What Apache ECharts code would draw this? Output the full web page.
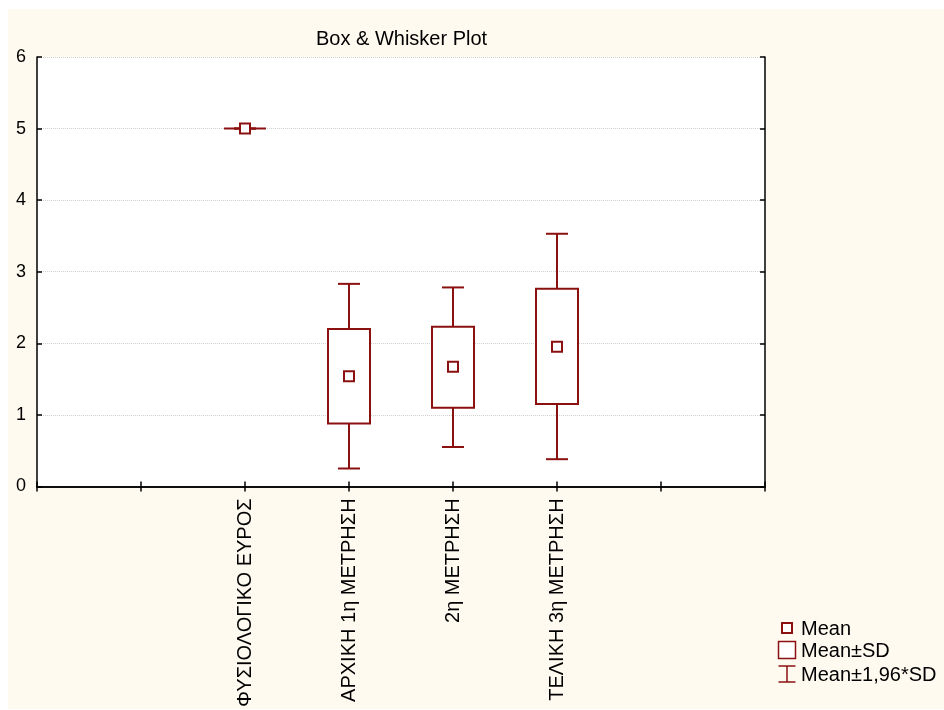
<!DOCTYPE html>
<html>
<head>
<meta charset="utf-8">
<script src="https://cdn.jsdelivr.net/npm/echarts@6/dist/echarts.min.js"></script>
<style>
html,body{margin:0;padding:0;background:#ffffff;}
#chart{width:944px;height:710px;}
</style>
</head>
<body>
<div id="chart"></div>
<script>
// Category slots on the x axis (empty slots are unlabeled tick positions)
const categories = ['', '', 'ΦΥΣΙΟΛΟΓΙΚΟ ΕΥΡΟΣ', 'ΑΡΧΙΚΗ 1η ΜΕΤΡΗΣΗ', '2η ΜΕΤΡΗΣΗ', 'ΤΕΛΙΚΗ 3η ΜΕΤΡΗΣΗ', '', ''];
// Which slot each group occupies
const groupSlots = [2, 3, 4, 5];
// Statistics
const means       = [5.00, 1.54, 1.67, 1.95];
const sdLow       = [5.00, 0.88, 1.10, 1.15];   // Mean - SD
const sdHigh      = [5.00, 2.20, 2.23, 2.76];   // Mean + SD
const whiskerLow  = [5.00, 0.25, 0.55, 0.38];   // Mean - 1.96*SD
const whiskerHigh = [5.00, 2.83, 2.78, 3.53];   // Mean + 1.96*SD
const yTicks = [0, 1, 2, 3, 4, 5, 6];
const legendLabels = ['Mean', 'Mean±SD', 'Mean±1,96*SD'];

const COLOR = '#8b1010';
const FONT = '"Liberation Sans", Arial, sans-serif';

const data = groupSlots.map((s, i) => [s, whiskerLow[i], sdLow[i], means[i], sdHigh[i], whiskerHigh[i]]);

function renderItem(params, api) {
  const x = api.value(0);
  const pWL = api.coord([x, api.value(1)]);
  const pBL = api.coord([x, api.value(2)]);
  const pM  = api.coord([x, api.value(3)]);
  const pBH = api.coord([x, api.value(4)]);
  const pWH = api.coord([x, api.value(5)]);
  const cx = pM[0];
  const boxW = 42, capW = 22, mk = 10;
  const ls = {stroke: COLOR, lineWidth: 2, fill: null};
  return {
    type: 'group',
    children: [
      {type: 'line', shape: {x1: cx, y1: pWH[1], x2: cx, y2: pBH[1]}, style: ls},
      {type: 'line', shape: {x1: cx, y1: pBL[1], x2: cx, y2: pWL[1]}, style: ls},
      {type: 'line', shape: {x1: cx - capW / 2, y1: pWH[1], x2: cx + capW / 2, y2: pWH[1]}, style: ls},
      {type: 'line', shape: {x1: cx - capW / 2, y1: pWL[1], x2: cx + capW / 2, y2: pWL[1]}, style: ls},
      {type: 'rect', shape: {x: cx - boxW / 2, y: pBH[1], width: boxW, height: pBL[1] - pBH[1]},
        style: {stroke: COLOR, lineWidth: 2, fill: '#ffffff'}},
      {type: 'rect', shape: {x: cx - mk / 2, y: pM[1] - mk / 2, width: mk, height: mk},
        style: {stroke: COLOR, lineWidth: 2, fill: '#ffffff'}}
    ]
  };
}

const chart = echarts.init(document.getElementById('chart'), null, {renderer: 'canvas'});

const lx = 787;
const legendY = [628, 650, 674];
const legendGraphics = [
  {type: 'rect', shape: {x: 8, y: 9, width: 936, height: 700}, style: {fill: '#fffaf0'}, z: -10, silent: true},
  {type: 'rect', shape: {x: lx - 5, y: legendY[0] - 5, width: 10, height: 10}, style: {stroke: COLOR, lineWidth: 2, fill: '#ffffff'}},
  {type: 'rect', shape: {x: lx - 8.5, y: legendY[1] - 8.5, width: 17, height: 17}, style: {stroke: COLOR, lineWidth: 1.5, fill: '#ffffff'}},
  {type: 'line', shape: {x1: lx, y1: legendY[2] - 8, x2: lx, y2: legendY[2] + 8}, style: {stroke: COLOR, lineWidth: 1.5}},
  {type: 'line', shape: {x1: lx - 8.5, y1: legendY[2] - 8, x2: lx + 8.5, y2: legendY[2] - 8}, style: {stroke: COLOR, lineWidth: 1.5}},
  {type: 'line', shape: {x1: lx - 8.5, y1: legendY[2] + 8, x2: lx + 8.5, y2: legendY[2] + 8}, style: {stroke: COLOR, lineWidth: 1.5}}
];
legendLabels.forEach((t, i) => {
  legendGraphics.push({type: 'text', x: 801, y: legendY[i] + 1,
    style: {text: t, fill: '#000', font: '20px ' + FONT, textVerticalAlign: 'middle', textAlign: 'left'}});
});

const axisLineStyle = {color: '#000', width: 1.5};
chart.setOption({
  backgroundColor: 'transparent',
  animation: false,
  title: {
    text: 'Box & Whisker Plot',
    left: 311, top: 24,
    textStyle: {fontFamily: FONT, fontSize: 20, fontWeight: 'normal', color: '#000'}
  },
  grid: {left: 37, top: 57, right: 179, bottom: 220, containLabel: false,
    show: true, backgroundColor: '#ffffff', borderWidth: 0},
  xAxis: [{
    type: 'category', data: categories, boundaryGap: false, position: 'bottom',
    axisLine: {show: true, lineStyle: axisLineStyle},
    axisTick: {show: true, inside: true, length: 5, lineStyle: {color: '#000', width: 1.5}, interval: 0},
    axisLabel: {show: true, rotate: 90, margin: 12, interval: 0, fontFamily: FONT, fontSize: 20, color: '#000'},
    splitLine: {show: false}
  }, {
    type: 'category', data: categories, boundaryGap: false, position: 'top',
    axisLine: {show: true, lineStyle: axisLineStyle},
    axisTick: {show: true, inside: true, length: 5, lineStyle: {color: '#000', width: 1.5}, interval: 0},
    axisLabel: {show: false}, splitLine: {show: false}
  }],
  yAxis: [{
    type: 'value', min: 0, max: 6, interval: 1, position: 'left',
    axisLine: {show: true, lineStyle: axisLineStyle},
    axisTick: {show: true, inside: true, length: 5, lineStyle: {color: '#000', width: 1.5}},
    axisLabel: {margin: 11, fontFamily: FONT, fontSize: 18, color: '#000',
      formatter: v => yTicks.includes(v) ? String(v) : ''},
    splitLine: {show: true, lineStyle: {color: '#d0d0d0', type: 'dotted', width: 1}}
  }, {
    type: 'value', min: 0, max: 6, interval: 1, position: 'right',
    axisLine: {show: true, lineStyle: axisLineStyle},
    axisTick: {show: true, inside: true, length: 5, lineStyle: {color: '#000', width: 1.5}},
    axisLabel: {show: false}, splitLine: {show: false}
  }],
  graphic: legendGraphics,
  series: [{
    type: 'custom',
    renderItem: renderItem,
    xAxisIndex: 0, yAxisIndex: 0,
    encode: {x: 0, y: [1, 2, 3, 4, 5]},
    data: data,
    z: 5
  }]
});
</script>
</body>
</html>
